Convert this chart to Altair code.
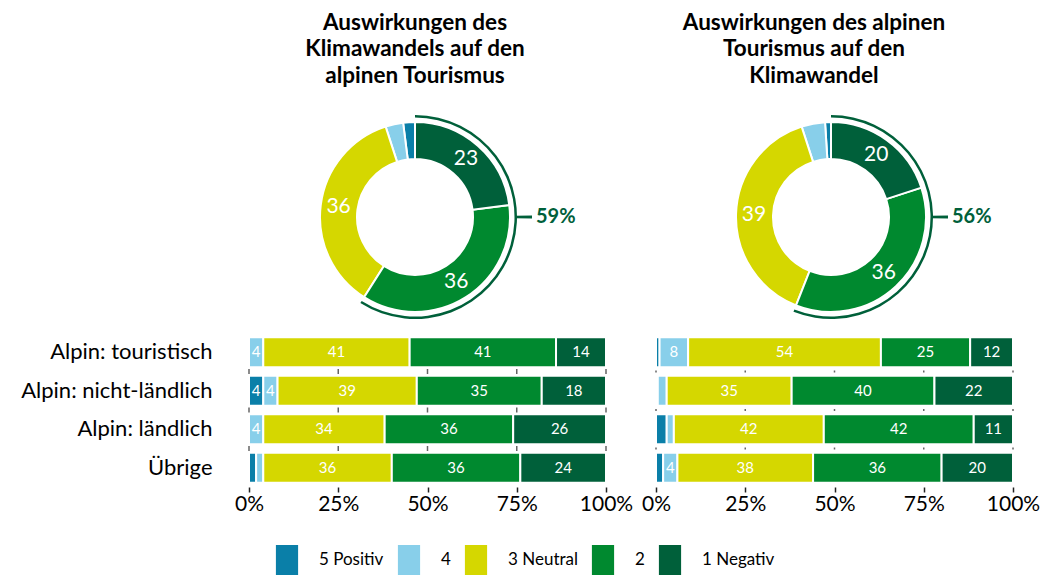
import math
import altair as alt
import pandas as pd

FONT = "Lato"
DARK = "#00603a"

# ---- categories / colours
categories = ["5 Positiv", "4", "3 Neutral", "2", "1 Negativ"]
colors = ["#0a7fa8", "#88cfea", "#d5d700", "#00892f", "#00603a"]
donut_stack_order = [4, 3, 2, 1, 0]

# ---- donut data
donut_titles = [
    ["Auswirkungen des", "Klimawandels auf den", "alpinen Tourismus"],
    ["Auswirkungen des alpinen", "Tourismus auf den", "Klimawandel"],
]
donut_left = [2, 3, 36, 36, 23]
donut_right = [1, 4, 39, 36, 20]
share_left = 59
share_right = 56

# ---- bar data
groups = ["Alpin: touristisch", "Alpin: nicht-ländlich", "Alpin: ländlich", "Übrige"]
left_positiv = [0, 4, 0, 2]
left_4 = [4, 4, 4, 2]
left_neutral = [41, 39, 34, 36]
left_2 = [41, 35, 36, 36]
left_negativ = [14, 18, 26, 24]

right_positiv = [1, 0.5, 3, 2]
right_4 = [8, 2.5, 2, 4]
right_neutral = [54, 35, 42, 38]
right_2 = [25, 40, 42, 36]
right_negativ = [12, 22, 11, 20]

tick_values = [0, 25, 50, 75, 100]

legend = alt.Legend(
    orient="none", legendX=23, legendY=433, direction="horizontal", columns=5,
    title=None, symbolType="M-0.74,-1H0.74V1H-0.74Z", symbolSize=900,
    symbolStrokeWidth=0, labelFont=FONT, labelFontSize=17, labelOffset=17,
    columnPadding=10, labelColor="black",
)
color_enc = alt.Color("cat:N", scale=alt.Scale(domain=categories, range=colors),
                      legend=legend, sort=categories)


def donut(values, share, title, width, title_dx):
    df = pd.DataFrame({"cat": categories, "val": values, "ord": donut_stack_order})
    df["lab"] = [str(v) if v >= 10 else "" for v in values]
    th = alt.Scale(domain=[0, 100])
    base = alt.Chart(df)
    ring = base.mark_arc(radius=95, radius2=58, stroke="white", strokeWidth=2).encode(
        theta=alt.Theta("val:Q", stack=True, scale=th),
        color=color_enc,
        order=alt.Order("ord:Q"),
    )
    txt = base.mark_text(radius=77, font=FONT, fontSize=21, color="white").encode(
        theta=alt.Theta("val:Q", stack=True, scale=th),
        text="lab:N",
        order=alt.Order("ord:Q"),
    )
    sdf = pd.DataFrame({"share": [share], "lab": [f"{share}%"]})
    sbase = alt.Chart(sdf)
    arc = sbase.mark_arc(radius=102, radius2=99.5, color=DARK).encode(
        theta=alt.Theta("share:Q", stack=True, scale=th)
    )
    tick = sbase.mark_arc(radius=117, radius2=100, color=DARK).encode(
        theta=alt.value(math.pi / 2 - 0.013), theta2=alt.value(math.pi / 2 + 0.013)
    )
    lab = sbase.mark_text(radius=121, align="left", baseline="middle", font=FONT,
                          fontSize=20, fontWeight="bold", color=DARK).encode(
        theta=alt.value(math.pi / 2), text="lab:N"
    )
    return alt.layer(ring, txt, arc, tick, lab).properties(
        width=width, height=210,
        title=alt.TitleParams(text=title, font=FONT, fontSize=22.5, fontWeight="bold",
                              color="black", lineHeight=26.5, anchor="middle",
                              offset=25, dx=title_dx),
    )


def bar_panel(vals, show_y, tick_size):
    rows = []
    for ci, cat in enumerate(categories):
        for gi, g in enumerate(groups):
            v = vals[ci][gi]
            rows.append(dict(group=g, cat=cat, val=v, ord=ci,
                             lab=(f"{v:g}" if v >= 4 else "")))
    df = pd.DataFrame(rows)
    base = alt.Chart(df).transform_stack(
        stack="val", groupby=["group"], as_=["x0", "x1"], sort=[alt.SortField("ord")]
    ).transform_calculate(mid="(datum.x0 + datum.x1) / 2")
    if show_y:
        y_axis = alt.Axis(title=None, ticks=False, domain=False, labelFont=FONT,
                          labelFontSize=22, labelPadding=37, labelColor="black",
                          labelLimit=400)
    else:
        y_axis = None
    y = alt.Y("group:N", sort=groups, axis=y_axis,
              scale=alt.Scale(paddingInner=0.22, paddingOuter=0.11))
    xs = alt.Scale(domain=[0, 100], nice=False)
    x_axis = alt.Axis(values=tick_values, labelExpr="datum.value + '%'", title=None,
                      grid=False, domain=False, ticks=True, tickSize=5, tickColor="#222",
                      tickWidth=1.5, labelFont=FONT, labelFontSize=21,
                      labelColor="black", labelPadding=1, labelFlush=False)
    bar = base.mark_bar(stroke="white", strokeWidth=2).encode(
        x=alt.X("x0:Q", scale=xs, axis=x_axis), x2="x1:Q", y=y, color=color_enc
    )
    txt = base.mark_text(color="white", font=FONT, fontSize=15).encode(
        x=alt.X("mid:Q", scale=xs, axis=x_axis), y=y, text="lab:N"
    )
    tdf = pd.DataFrame([{"group": g, "pos": p} for g in groups[:-1] for p in tick_values])
    ticks = alt.Chart(tdf).mark_tick(orient="vertical", size=tick_size, thickness=1.5,
                                     color="#222", yOffset=19.25).encode(
        x=alt.X("pos:Q", scale=xs, axis=x_axis), y=y
    )
    return alt.layer(bar, txt, ticks).properties(width=357, height=154)


d1 = donut(donut_left, share_left, donut_titles[0], 332, 0)
d2 = donut(donut_right, share_right, donut_titles[1], 350, -17)
b1 = bar_panel([left_positiv, left_4, left_neutral, left_2, left_negativ], True, 5)
b2 = bar_panel([right_positiv, right_4, right_neutral, right_2, right_negativ], False, 2)

chart = alt.concat(
    d1, d2, b1, b2, columns=2, spacing={"row": 11, "column": 50},
    bounds="flush", align="each",
).properties(
    padding={"left": 12, "top": 3, "right": 5, "bottom": 5}
).configure_view(stroke=None)

chart.save("out.html", embed_options={"renderer": "svg", "actions": False})
